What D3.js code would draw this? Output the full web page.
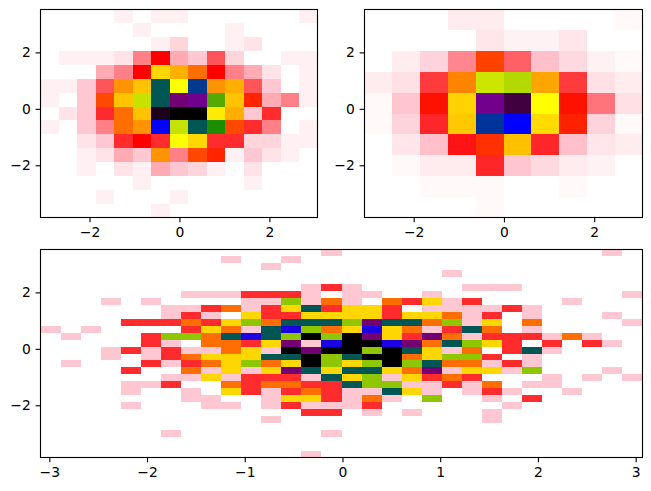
<!DOCTYPE html>
<html>
<head>
<meta charset="utf-8">
<script src="https://cdn.jsdelivr.net/npm/d3@7"></script>
<style>
  html, body { margin: 0; padding: 0; background: #fff; }
  svg { display: block; }
  text { font-family: "DejaVu Sans", sans-serif; }
</style>
</head>
<body>
<svg id="chart" width="651" height="491"></svg>
<script>
// Shared axis limits of the sample (bin edges run from limit to limit).
const xLimits = [-3.09, 3.07];
const yLimits = [-3.85, 3.52];

// Colour ramp, evenly spaced from zero to each panel's top count.
const rampColors = ["white", "pink", "red", "orange", "yellow", "green", "blue", "purple", "black"];

// 2D histogram counts, rows listed from the top of the plot downward.
const countsMedium = [
  [0,0,0,0,1,0,1,1,0,0,0,0,0,0,1],
  [0,0,0,0,0,1,0,0,0,0,1,0,0,0,0],
  [0,0,0,0,0,0,1,3,0,0,1,2,0,0,0],
  [0,1,1,1,2,6,9,5,4,7,3,0,0,1,1],
  [0,0,0,5,6,9,16,14,12,9,6,5,2,0,1],
  [1,1,4,7,13,15,24,18,25,13,14,7,4,0,1],
  [1,0,4,11,15,19,24,32,31,21,15,10,5,6,1],
  [0,2,4,8,12,15,35,36,36,17,14,4,8,0,0],
  [1,0,4,6,12,13,27,19,24,22,11,8,6,0,1],
  [0,0,2,4,8,9,8,18,16,8,8,3,3,1,1],
  [0,0,1,2,5,4,13,6,11,10,1,4,2,1,0],
  [0,0,1,0,2,1,5,4,3,1,0,2,0,0,0],
  [0,0,0,0,0,1,0,0,0,0,0,1,0,0,0],
  [0,0,0,1,0,0,0,1,0,0,0,0,0,0,0],
  [0,0,0,0,0,0,1,0,0,0,0,0,0,0,0]
];

const countsCoarse = [
  [0,0,0,3,3,0,0,0,0,1],
  [0,0,0,0,4,2,2,4,0,0],
  [0,3,7,13,24,15,10,6,2,1],
  [3,5,17,28,42,43,30,17,5,3],
  [1,9,21,35,69,75,40,21,14,5],
  [1,7,18,34,56,60,36,22,7,1],
  [0,4,10,19,23,33,18,10,4,3],
  [0,1,3,3,18,9,6,3,2,0],
  [0,0,1,1,1,0,0,1,0,0],
  [0,0,0,0,1,0,0,0,0,0]
];

const countsFine = [
  [0,0,0,0,0,0,0,0,0,0,0,0,0,0,1,0,0,0,0,0,0,0,0,0,0,0,0,0,1,0],
  [0,0,0,0,0,0,0,0,0,1,0,0,1,0,0,0,0,0,0,0,0,0,0,0,0,0,0,0,0,0],
  [0,0,0,0,0,0,0,0,0,0,0,1,0,0,0,0,0,0,0,0,0,0,0,0,0,0,0,0,0,0],
  [0,0,0,0,0,0,0,0,0,0,0,0,0,0,0,0,0,0,0,0,1,0,0,0,0,0,0,0,0,0],
  [0,0,0,0,0,0,0,0,0,0,0,0,0,0,0,0,0,0,0,0,0,0,0,0,0,0,0,0,0,0],
  [0,0,0,0,0,0,0,0,0,0,0,0,0,1,2,1,0,0,0,0,0,1,1,1,0,0,0,0,0,0],
  [0,0,0,0,0,0,0,1,1,1,2,2,2,1,0,1,1,0,0,1,0,0,0,0,0,0,0,0,0,1],
  [0,0,0,1,0,1,0,0,0,0,1,1,5,1,3,1,0,3,2,4,1,2,0,0,0,0,1,0,0,0],
  [0,0,0,0,0,0,1,1,2,3,1,2,4,6,2,4,4,2,0,1,1,1,1,2,1,0,0,0,0,0],
  [0,0,0,0,0,0,1,2,1,0,4,2,2,4,4,4,4,2,4,4,3,1,2,0,1,0,0,0,1,0],
  [0,0,0,0,2,2,2,3,2,4,5,3,6,6,6,5,8,6,6,3,5,1,4,0,3,0,0,0,0,1],
  [1,0,1,0,0,0,0,2,4,3,1,6,7,5,3,4,7,4,3,1,2,6,3,0,1,0,0,0,0,0],
  [0,1,0,0,0,2,5,5,3,6,7,6,5,9,5,9,8,4,2,8,3,1,2,2,2,1,3,1,0,0],
  [0,0,0,0,0,2,1,0,3,3,2,4,8,1,7,9,9,7,8,3,6,5,4,2,0,2,0,2,1,0],
  [0,0,0,1,2,1,2,1,1,3,4,1,9,8,9,9,5,9,6,4,1,3,0,2,6,1,0,0,0,0],
  [0,0,0,1,0,1,2,3,4,4,4,6,6,9,5,6,9,9,3,4,5,5,2,0,1,0,0,0,0,0],
  [0,1,0,0,0,2,1,2,3,4,5,3,4,9,5,4,5,9,5,6,3,3,1,2,1,0,0,0,0,0],
  [0,0,0,0,2,0,0,3,1,4,1,4,8,6,4,6,6,4,3,8,1,4,4,1,5,0,0,0,1,0],
  [0,0,0,0,0,0,1,1,4,1,2,2,2,1,6,4,5,1,4,2,3,2,0,0,0,1,0,1,0,1],
  [0,0,0,0,1,1,2,0,0,3,2,3,3,2,2,6,5,5,1,1,2,1,3,0,1,1,0,0,0,0],
  [0,0,0,0,1,0,0,1,0,4,2,1,2,3,2,1,1,6,4,1,0,1,2,1,0,0,1,0,0,0],
  [0,0,0,0,0,0,0,1,1,0,0,1,4,4,2,1,3,1,0,5,0,0,1,0,2,0,0,0,0,0],
  [0,0,0,0,1,0,0,0,1,1,0,1,2,1,1,1,2,0,0,0,0,0,0,1,0,0,0,0,0,0],
  [0,0,0,0,0,0,0,0,0,0,0,0,0,2,2,0,1,0,1,0,0,0,1,0,0,0,0,0,0,0],
  [0,0,0,0,0,0,0,0,0,0,0,1,0,0,0,0,0,0,0,0,0,0,1,0,0,0,0,0,0,0],
  [0,0,0,0,0,0,0,0,0,0,0,0,0,0,0,0,0,0,0,0,0,0,0,0,0,0,0,0,0,0],
  [0,0,0,0,0,0,1,0,0,0,0,0,0,0,1,0,0,0,0,0,0,0,0,0,0,0,0,0,0,0],
  [0,0,0,0,0,0,0,0,0,0,0,0,0,0,0,0,0,0,0,0,0,0,0,0,0,0,0,0,0,0],
  [0,0,0,0,0,0,0,0,0,0,0,0,0,0,0,0,0,0,0,0,0,0,0,0,0,0,0,0,0,0],
  [0,0,0,0,0,0,0,0,0,0,0,0,0,1,0,0,0,0,0,0,0,0,0,0,0,0,0,0,0,0]
];

// Top of the colour scale for each histogram.
const colorTopMedium = 36;
const colorTopCoarse = 80;
const colorTopFine = 9;

const narrowXTicks = [-2, 0, 2];
const wideXTicks = [-3, -2, -1, 0, 1, 2, 3];
const yTicks = [-2, 0, 2];

const ramp = d3.scaleLinear()
  .domain(rampColors.map((_, i) => i / (rampColors.length - 1)))
  .range(rampColors)
  .interpolate(d3.interpolateRgb);

const svg = d3.select("#chart");
const minusLabel = d => String(d).replace("-", "\u2212");

function drawPanel({ left, right, top, bottom, counts, colorTop, xTicks }) {
  const x = d3.scaleLinear().domain(xLimits).range([left, right]);
  const y = d3.scaleLinear().domain(yLimits).range([bottom, top]);

  const rows = counts.length;
  const cols = counts[0].length;
  const xEdge = d3.scaleLinear().domain([0, cols]).range(xLimits);
  const yEdge = d3.scaleLinear().domain([0, rows]).range([yLimits[1], yLimits[0]]);

  const cells = counts.flatMap((row, r) => row.map((count, c) => ({ r, c, count })));

  const g = svg.append("g");
  g.selectAll("rect.cell")
    .data(cells)
    .join("rect")
    .attr("class", "cell")
    .attr("shape-rendering", "crispEdges")
    .attr("x", d => x(xEdge(d.c)))
    .attr("y", d => y(yEdge(d.r)))
    .attr("width", d => x(xEdge(d.c + 1)) - x(xEdge(d.c)))
    .attr("height", d => y(yEdge(d.r + 1)) - y(yEdge(d.r)))
    .attr("fill", d => ramp(d.count / colorTop));

  const tickSize = 4.86;
  const tickPad = 4.86;

  const xAxis = g.append("g")
    .attr("transform", `translate(0,${bottom})`)
    .call(d3.axisBottom(x).tickValues(xTicks).tickFormat(minusLabel)
      .tickSize(tickSize).tickPadding(tickPad));
  const yAxis = g.append("g")
    .attr("transform", `translate(${left},0)`)
    .call(d3.axisLeft(y).tickValues(yTicks).tickFormat(minusLabel)
      .tickSize(tickSize).tickPadding(tickPad));

  [xAxis, yAxis].forEach(axis => {
    axis.select(".domain").remove();
    axis.selectAll("line").attr("stroke", "#000").attr("stroke-width", 1.11);
    axis.selectAll("text")
      .attr("fill", "#000")
      .style("font-size", "13.89px")
      .style("font-family", '"DejaVu Sans", sans-serif');
  });

  g.append("rect")
    .attr("x", left)
    .attr("y", top)
    .attr("width", right - left)
    .attr("height", bottom - top)
    .attr("fill", "none")
    .attr("stroke", "#000")
    .attr("stroke-width", 1.11);
}

drawPanel({ left: 40.5, right: 317.5, top: 9.5, bottom: 217.5,
            counts: countsMedium, colorTop: colorTopMedium, xTicks: narrowXTicks });
drawPanel({ left: 364.5, right: 642.5, top: 9.5, bottom: 217.5,
            counts: countsCoarse, colorTop: colorTopCoarse, xTicks: narrowXTicks });
drawPanel({ left: 40.5, right: 642.5, top: 249.5, bottom: 457.5,
            counts: countsFine, colorTop: colorTopFine, xTicks: wideXTicks });
</script>
</body>
</html>
